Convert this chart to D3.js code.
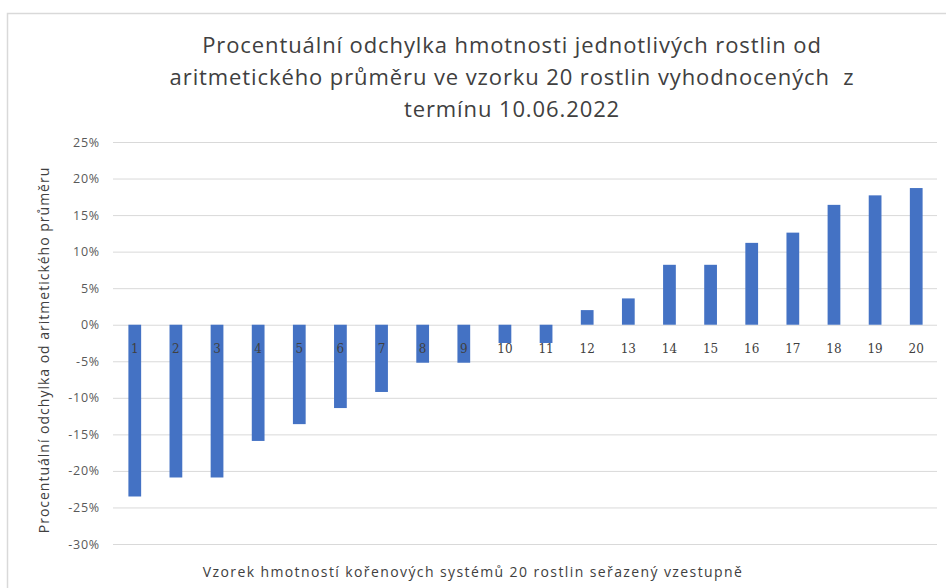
<!DOCTYPE html>
<html><head><meta charset="utf-8">
<script src="https://cdn.jsdelivr.net/npm/d3@7"></script>
<style>body{margin:0;background:#fff}svg{display:block}</style>
</head><body>
<script>
const categories = ["1","2","3","4","5","6","7","8","9","10","11","12","13","14","15","16","17","18","19","20"];
const values = [-0.235,-0.209,-0.209,-0.159,-0.136,-0.114,-0.092,-0.052,-0.052,-0.025,-0.025,0.020,0.036,0.082,0.082,0.112,0.126,0.164,0.177,0.187];
const yTicks = [-0.30,-0.25,-0.20,-0.15,-0.10,-0.05,0,0.05,0.10,0.15,0.20,0.25];
const titleLines = ["Procentuální odchylka hmotnosti jednotlivých rostlin od","aritmetického průměru ve vzorku 20 rostlin vyhodnocených  z","termínu 10.06.2022"];
const yTitle = "Procentuální odchylka od aritmetického průměru";
const xTitle = "Vzorek hmotností kořenových systémů 20 rostlin seřazený vzestupně";

const W=946,H=588;
const svg=d3.select("body").append("svg").attr("width",W).attr("height",H);
svg.append("rect").attr("x",7.5).attr("y",13.5).attr("width",W).attr("height",H).attr("fill","#fff").attr("stroke","#d9d9d9").attr("stroke-width",1.5);

const x=d3.scaleBand().domain(categories).range([114,937]).paddingInner(0.69).paddingOuter(0.35);
const y=d3.scaleLinear().domain([-0.30,0.25]).range([544,142]);

const fmt=d=>Math.round(d*100)+"%";
const yAxis=svg.append("g").attr("transform","translate(113,0)")
  .call(d3.axisLeft(y).tickValues(yTicks).tickFormat(fmt).tickSize(-824).tickPadding(13));
yAxis.select(".domain").remove();
yAxis.selectAll(".tick line").attr("stroke","#d9d9d9").attr("stroke-width",1);
yAxis.selectAll(".tick text").attr("fill","#595959").style("font-family","'Open Sans', sans-serif").style("font-size","12.5px").style("letter-spacing","0.8px");

svg.append("g").selectAll("rect").data(values).join("rect")
  .attr("x",(d,i)=>x(categories[i])).attr("width",x.bandwidth())
  .attr("y",d=>y(Math.max(0,d))).attr("height",d=>Math.abs(y(d)-y(0)))
  .attr("fill","#4472C4");

svg.append("g").selectAll("text").data(categories).join("text")
  .attr("x",d=>x(d)+x.bandwidth()/2).attr("y",353).attr("text-anchor","middle")
  .attr("fill","#404040").style("font-family","'DejaVu Serif', serif").style("font-size","12px").text(d=>d);

svg.append("g").selectAll("text").data(titleLines).join("text")
  .attr("x",512).attr("y",(d,i)=>53+i*32).attr("text-anchor","middle")
  .attr("fill","#404040").style("font-family","'Open Sans', sans-serif").style("font-size","22px")
  .style("letter-spacing","0.9px").style("white-space","pre").text(d=>d);

svg.append("text").attr("transform","translate(49,350) rotate(-90)").attr("text-anchor","middle")
  .attr("fill","#404040").style("font-family","'Open Sans', sans-serif").style("font-size","14px")
  .style("letter-spacing","1px").text(yTitle);

svg.append("text").attr("x",473).attr("y",577).attr("text-anchor","middle")
  .attr("fill","#404040").style("font-family","'Open Sans', sans-serif").style("font-size","14px")
  .style("letter-spacing","1.4px").text(xTitle);
</script>
</body></html>
